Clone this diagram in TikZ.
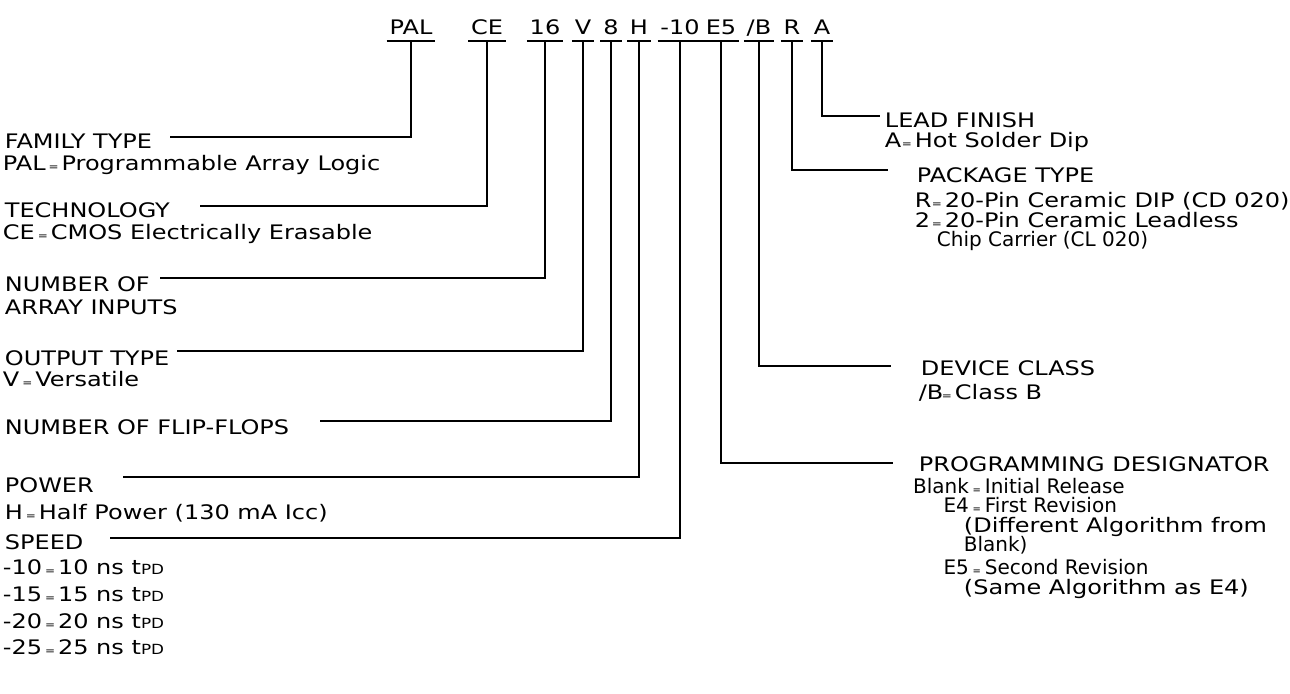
\documentclass[tikz,border=0pt]{standalone}
\usepackage{fontspec}
\setmainfont{DejaVu Sans}[FakeStretch=1.2]
\newfontfamily\narrowf{DejaVu Sans}[FakeStretch=1.0]
\newcommand\eqs{\makebox[8pt]{\fontsize{5}{5}\selectfont=}}

\begin{document}
\begin{tikzpicture}[x=0.5pt,y=-0.5pt,line width=0.9pt,
  every node/.style={inner sep=0pt,font=\fontsize{10}{12}\selectfont},
  code/.style={anchor=base,inner xsep=1pt,inner ysep=3pt,text depth=0pt},
  txt/.style={anchor=base west}]
  \useasboundingbox (0,0) rectangle (1290,693);
  % codigo
  \node[code] (pal) at (411,34) {PAL};
  \node[code] (ce)  at (487,34) {CE};
  \node[code] (n16) at (545,34) {16};
  \node[code] (v)   at (583,34) {V};
  \node[code] (ff)  at (611,34) {8};
  \node[code] (h)   at (639,34) {H};
  \node[code] (spd) at (680,34) {-10};
  \node[code] (pd)  at (721,34) {E5};
  \node[code] (dc)  at (759,34) {/B};
  \node[code] (pk)  at (792,34) {R};
  \node[code] (lf)  at (822,34) {A};
  \foreach \n in {pal,ce,n16,v,ff,h,spd,pd,dc,pk,lf}
    \draw (\n.south west) -- (\n.south east);
  % izquierda
  \node[txt] (fam)  at (4,148) {FAMILY TYPE};
  \node[txt] (famd) at (2,170) {PAL\eqs Programmable Array Logic};
  \node[txt] (tec)  at (4,217) {TECHNOLOGY};
  \node[txt] (tecd) at (2,239) {CE\eqs CMOS Electrically Erasable};
  \node[txt] (nai)  at (4,291) {NUMBER OF};
  \node[txt] (naid) at (4,314) {ARRAY INPUTS};
  \node[txt] (out)  at (4,365) {OUTPUT TYPE};
  \node[txt] (outd) at (2,386) {V\eqs Versatile};
  \node[txt] (nff)  at (4,434) {NUMBER OF FLIP-FLOPS};
  \node[txt] (pwr)  at (4,492) {POWER};
  \node[txt] (pwrd) at (4,519) {H\eqs Half Power (130 mA Icc)};
  \node[txt] (spe)  at (4,549) {SPEED};
  \foreach \t [count=\i] in {10,15,20,25}
    \node[txt] (spe\i) at (2,548+26.7*\i) {-\t\eqs \t\ ns t{\fontsize{7}{8}\selectfont PD}};
  \coordinate (famL) at (170,137);
  \coordinate (tecL) at (200,206);
  \coordinate (naiL) at (160,278);
  \coordinate (outL) at (177,351);
  \coordinate (nffL) at (320,421);
  \coordinate (pwrL) at (123,477);
  \coordinate (speL) at (110,538);
  \draw (famL) -| (pal.south);
  \draw (tecL) -| (ce.south);
  \draw (naiL) -| (n16.south);
  \draw (outL) -| (v.south);
  \draw (nffL) -| (ff.south);
  \draw (pwrL) -| (h.south);
  \draw (speL) -| (spd.south);
  % derecha
  \node[txt] (lead)  at (884,127) {LEAD FINISH};
  \node[txt] (leadd) at (884,147) {\makebox[7pt][l]{A}\eqs Hot Solder Dip};
  \node[txt] (pkg)   at (916,182) {PACKAGE TYPE};
  \node[txt] (pkga)  at (914,207) {\makebox[7pt][l]{R}\eqs 20-Pin Ceramic DIP (CD 020)};
  \node[txt] (pkgb)  at (914,227) {\makebox[7pt][l]{2}\eqs 20-Pin Ceramic Leadless};
  \node[txt] (pkgc)  at (936,246) {\narrowf Chip Carrier (CL 020)};
  \node[txt] (dev)   at (920,375) {DEVICE CLASS};
  \node[txt] (devd)  at (918,399) {\makebox[10pt][l]{/B}\eqs Class B};
  \node[txt] (prg)   at (918,471) {PROGRAMMING DESIGNATOR};
  \node[txt] (prga)  at (912,493) {\narrowf\makebox[28pt][r]{Blank}\eqs Initial Release};
  \node[txt] (prgb)  at (912,512) {\narrowf\makebox[28pt][r]{E4}\eqs First Revision};
  \node[txt] (prgc)  at (963,532) {(Different Algorithm from};
  \node[txt] (prgd)  at (963,551) {\narrowf Blank)};
  \node[txt] (prge)  at (912,574) {\narrowf\makebox[28pt][r]{E5}\eqs Second Revision};
  \node[txt] (prgf)  at (963,594) {(Same Algorithm as E4)};
  \coordinate (leadR) at (880,116);
  \coordinate (pkgR)  at (888,170);
  \coordinate (devR)  at (891,366);
  \coordinate (prgR)  at (893,463);
  \draw (lf.south) |- (leadR);
  \draw (pk.south) |- (pkgR);
  \draw (dc.south) |- (devR);
  \draw (pd.south) |- (prgR);
\end{tikzpicture}
\end{document}
